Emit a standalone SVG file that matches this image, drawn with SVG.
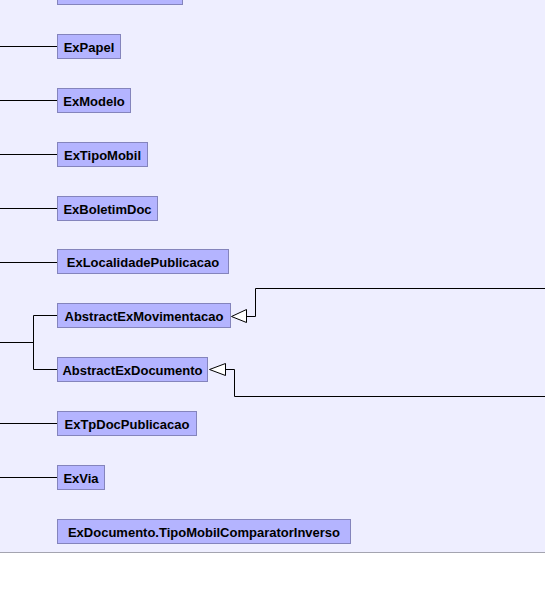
<svg xmlns="http://www.w3.org/2000/svg" width="545" height="590" viewBox="0 0 545 590">
<style>
.box{fill:#b4b4ff;stroke:#8484bc;stroke-width:1}
.lbl{font-family:"Liberation Sans",Arial,sans-serif;font-weight:bold;font-size:13px;fill:#000;text-anchor:middle}
.ln{fill:none;stroke:#000;stroke-width:1}
.tri{fill:#fff;stroke:#000;stroke-width:1}
</style>
<rect x="0" y="0" width="545" height="552" fill="#eeeeff"/>
<line x1="0" y1="552.5" x2="545" y2="552.5" stroke="#a4a4b0" stroke-width="1"/>
<g id="connectors">
<path class="ln" d="M0 46.5H57.5M0 100.5H57.5M0 154.5H57.5M0 208.5H57.5M0 262.5H57.5M0 423.5H57.5M0 477.5H57.5"/>
<path class="ln" d="M0 342.5H33.5M33.5 315.5V369.5M33.5 315.5H57.5M33.5 369.5H57.5"/>
<path class="ln" d="M246.5 316.5H255.5V288.5H545"/>
<polygon class="tri" points="231.5,316.5 246.5,309.5 246.5,322.5"/>
<path class="ln" d="M225.5 369.5H234.5V396.5H545"/>
<polygon class="tri" points="209.5,369.5 225.5,363.5 225.5,375.5"/>
</g>
<g id="n0"><rect class="box" x="57.5" y="-19.5" width="125" height="24"/></g>
<g id="ExPapel"><rect class="box" x="57.5" y="34.5" width="63" height="24"/><text class="lbl" x="89" y="51.5">ExPapel</text></g>
<g id="ExModelo"><rect class="box" x="57.5" y="88.5" width="73" height="24"/><text class="lbl" x="94" y="105.5">ExModelo</text></g>
<g id="ExTipoMobil"><rect class="box" x="57.5" y="142.5" width="90" height="24"/><text class="lbl" x="102.5" y="159.5">ExTipoMobil</text></g>
<g id="ExBoletimDoc"><rect class="box" x="57.5" y="196.5" width="100" height="24"/><text class="lbl" x="107.5" y="213.5">ExBoletimDoc</text></g>
<g id="ExLocalidadePublicacao"><rect class="box" x="57.5" y="249.5" width="171" height="24"/><text class="lbl" x="143" y="266.5">ExLocalidadePublicacao</text></g>
<g id="AbstractExMovimentacao"><rect class="box" x="57.5" y="303.5" width="173" height="24"/><text class="lbl" x="144" y="320.5">AbstractExMovimentacao</text></g>
<g id="AbstractExDocumento"><rect class="box" x="57.5" y="357.5" width="150" height="24"/><text class="lbl" x="132.5" y="374.5">AbstractExDocumento</text></g>
<g id="ExTpDocPublicacao"><rect class="box" x="57.5" y="411.5" width="139" height="24"/><text class="lbl" x="127" y="428.5">ExTpDocPublicacao</text></g>
<g id="ExVia"><rect class="box" x="57.5" y="465.5" width="47" height="24"/><text class="lbl" x="81" y="482.5">ExVia</text></g>
<g id="TipoMobilComparatorInverso"><rect class="box" x="57.5" y="519.5" width="293" height="24"/><text class="lbl" x="204" y="536.5">ExDocumento.TipoMobilComparatorInverso</text></g>
</svg>
